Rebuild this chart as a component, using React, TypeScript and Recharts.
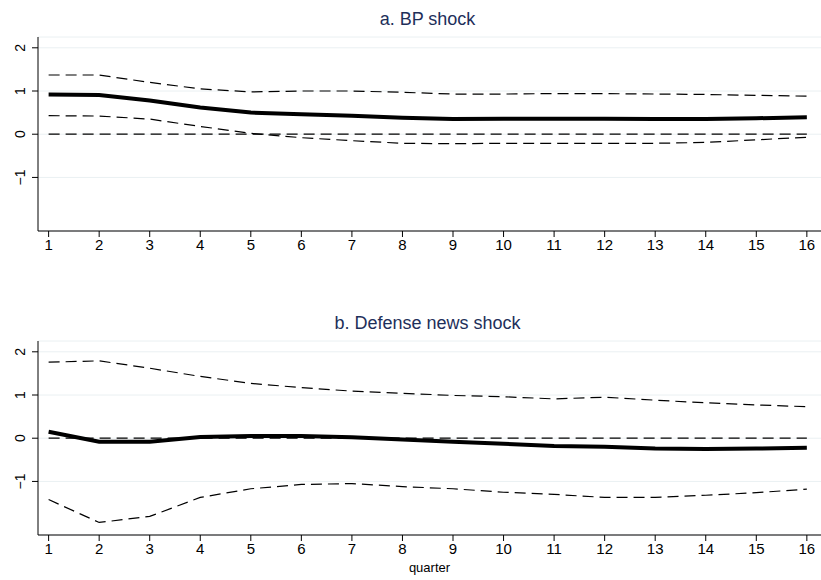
import React from "react";
import { LineChart, Line, XAxis, YAxis, CartesianGrid } from "recharts";

const quarters = [1,2,3,4,5,6,7,8,9,10,11,12,13,14,15,16];
const yTicks = [-1, 0, 1, 2];
const bpPoint = [0.92,0.91,0.78,0.62,0.5,0.46,0.43,0.38,0.35,0.36,0.36,0.36,0.35,0.35,0.37,0.39];
const bpUpper = [1.37,1.37,1.2,1.05,0.98,1.0,1.0,0.97,0.93,0.93,0.94,0.94,0.93,0.92,0.9,0.88];
const bpLower = [0.43,0.42,0.35,0.18,0.02,-0.08,-0.15,-0.21,-0.22,-0.21,-0.21,-0.21,-0.21,-0.19,-0.13,-0.07];
const dnPoint = [0.15,-0.08,-0.08,0.03,0.05,0.05,0.02,-0.03,-0.08,-0.13,-0.18,-0.2,-0.24,-0.25,-0.24,-0.22];
const dnUpper = [1.76,1.79,1.62,1.43,1.27,1.17,1.09,1.04,0.99,0.96,0.91,0.95,0.88,0.82,0.77,0.73];
const dnLower = [-1.42,-1.95,-1.81,-1.37,-1.17,-1.07,-1.05,-1.12,-1.17,-1.25,-1.3,-1.37,-1.37,-1.32,-1.26,-1.18];

const build = (p: number[], u: number[], l: number[]) =>
  quarters.map((q, i) => ({ q, p: p[i], u: u[i], l: l[i], z: 0 }));

const FONT = "Liberation Sans, Arial";

const YTick = (props: any) => {
  const { x, y, payload } = props;
  return (
    <text x={x - 5} y={y} transform={`rotate(-90 ${x - 5} ${y})`} textAnchor="middle" fontSize={14} fill="#000" fontFamily={FONT}>
      {payload.value < 0 ? "\u2212" + Math.abs(payload.value) : payload.value}
    </text>
  );
};

const Panel = ({ title, data, showLabel }: any) => (
  <div style={{ position: "relative", width: 821, height: 304 }}>
    <div style={{ position: "absolute", top: 9, width: 821, textAlign: "center", paddingLeft: 34, boxSizing: "border-box", fontFamily: FONT, fontSize: 18, color: "#1e2f5a" }}>{title}</div>
    <LineChart width={821} height={276} data={data} margin={{ top: 37, right: 0, left: 0, bottom: 15 }} style={{ overflow: "visible" }}>
      <CartesianGrid horizontal vertical={false} stroke="#eaf0f2" />
      <XAxis dataKey="q" type="number" domain={[0.79, 16.28]} ticks={quarters} interval={0} stroke="#000" tickSize={6} height={30}
        tick={{ fontSize: 15, fill: "#000", fontFamily: FONT }}
        label={showLabel ? { value: "quarter", position: "insideBottom", offset: -7, fontSize: 13, fill: "#000", fontFamily: FONT } : undefined} />
      <YAxis type="number" domain={[-2.24, 2.25]} ticks={yTicks} interval={0} stroke="#000" tickSize={6} width={38} tick={<YTick />} />
      <Line dataKey="z" stroke="#000" strokeWidth={1.2} strokeDasharray="11 6" dot={false} isAnimationActive={false} />
      <Line dataKey="u" stroke="#000" strokeWidth={1.2} strokeDasharray="11 6" dot={false} isAnimationActive={false} />
      <Line dataKey="l" stroke="#000" strokeWidth={1.2} strokeDasharray="11 6" dot={false} isAnimationActive={false} />
      <Line dataKey="p" stroke="#000" strokeWidth={4} dot={false} isAnimationActive={false} />
    </LineChart>
  </div>
);

export default function App() {
  return (
    <div style={{ position: "fixed", left: 0, top: 0, width: 821, height: 580, overflow: "hidden", background: "#fff" }}>
      <Panel title="a. BP shock" data={build(bpPoint, bpUpper, bpLower)} />
      <Panel title="b. Defense news shock" data={build(dnPoint, dnUpper, dnLower)} showLabel />
    </div>
  );
}
